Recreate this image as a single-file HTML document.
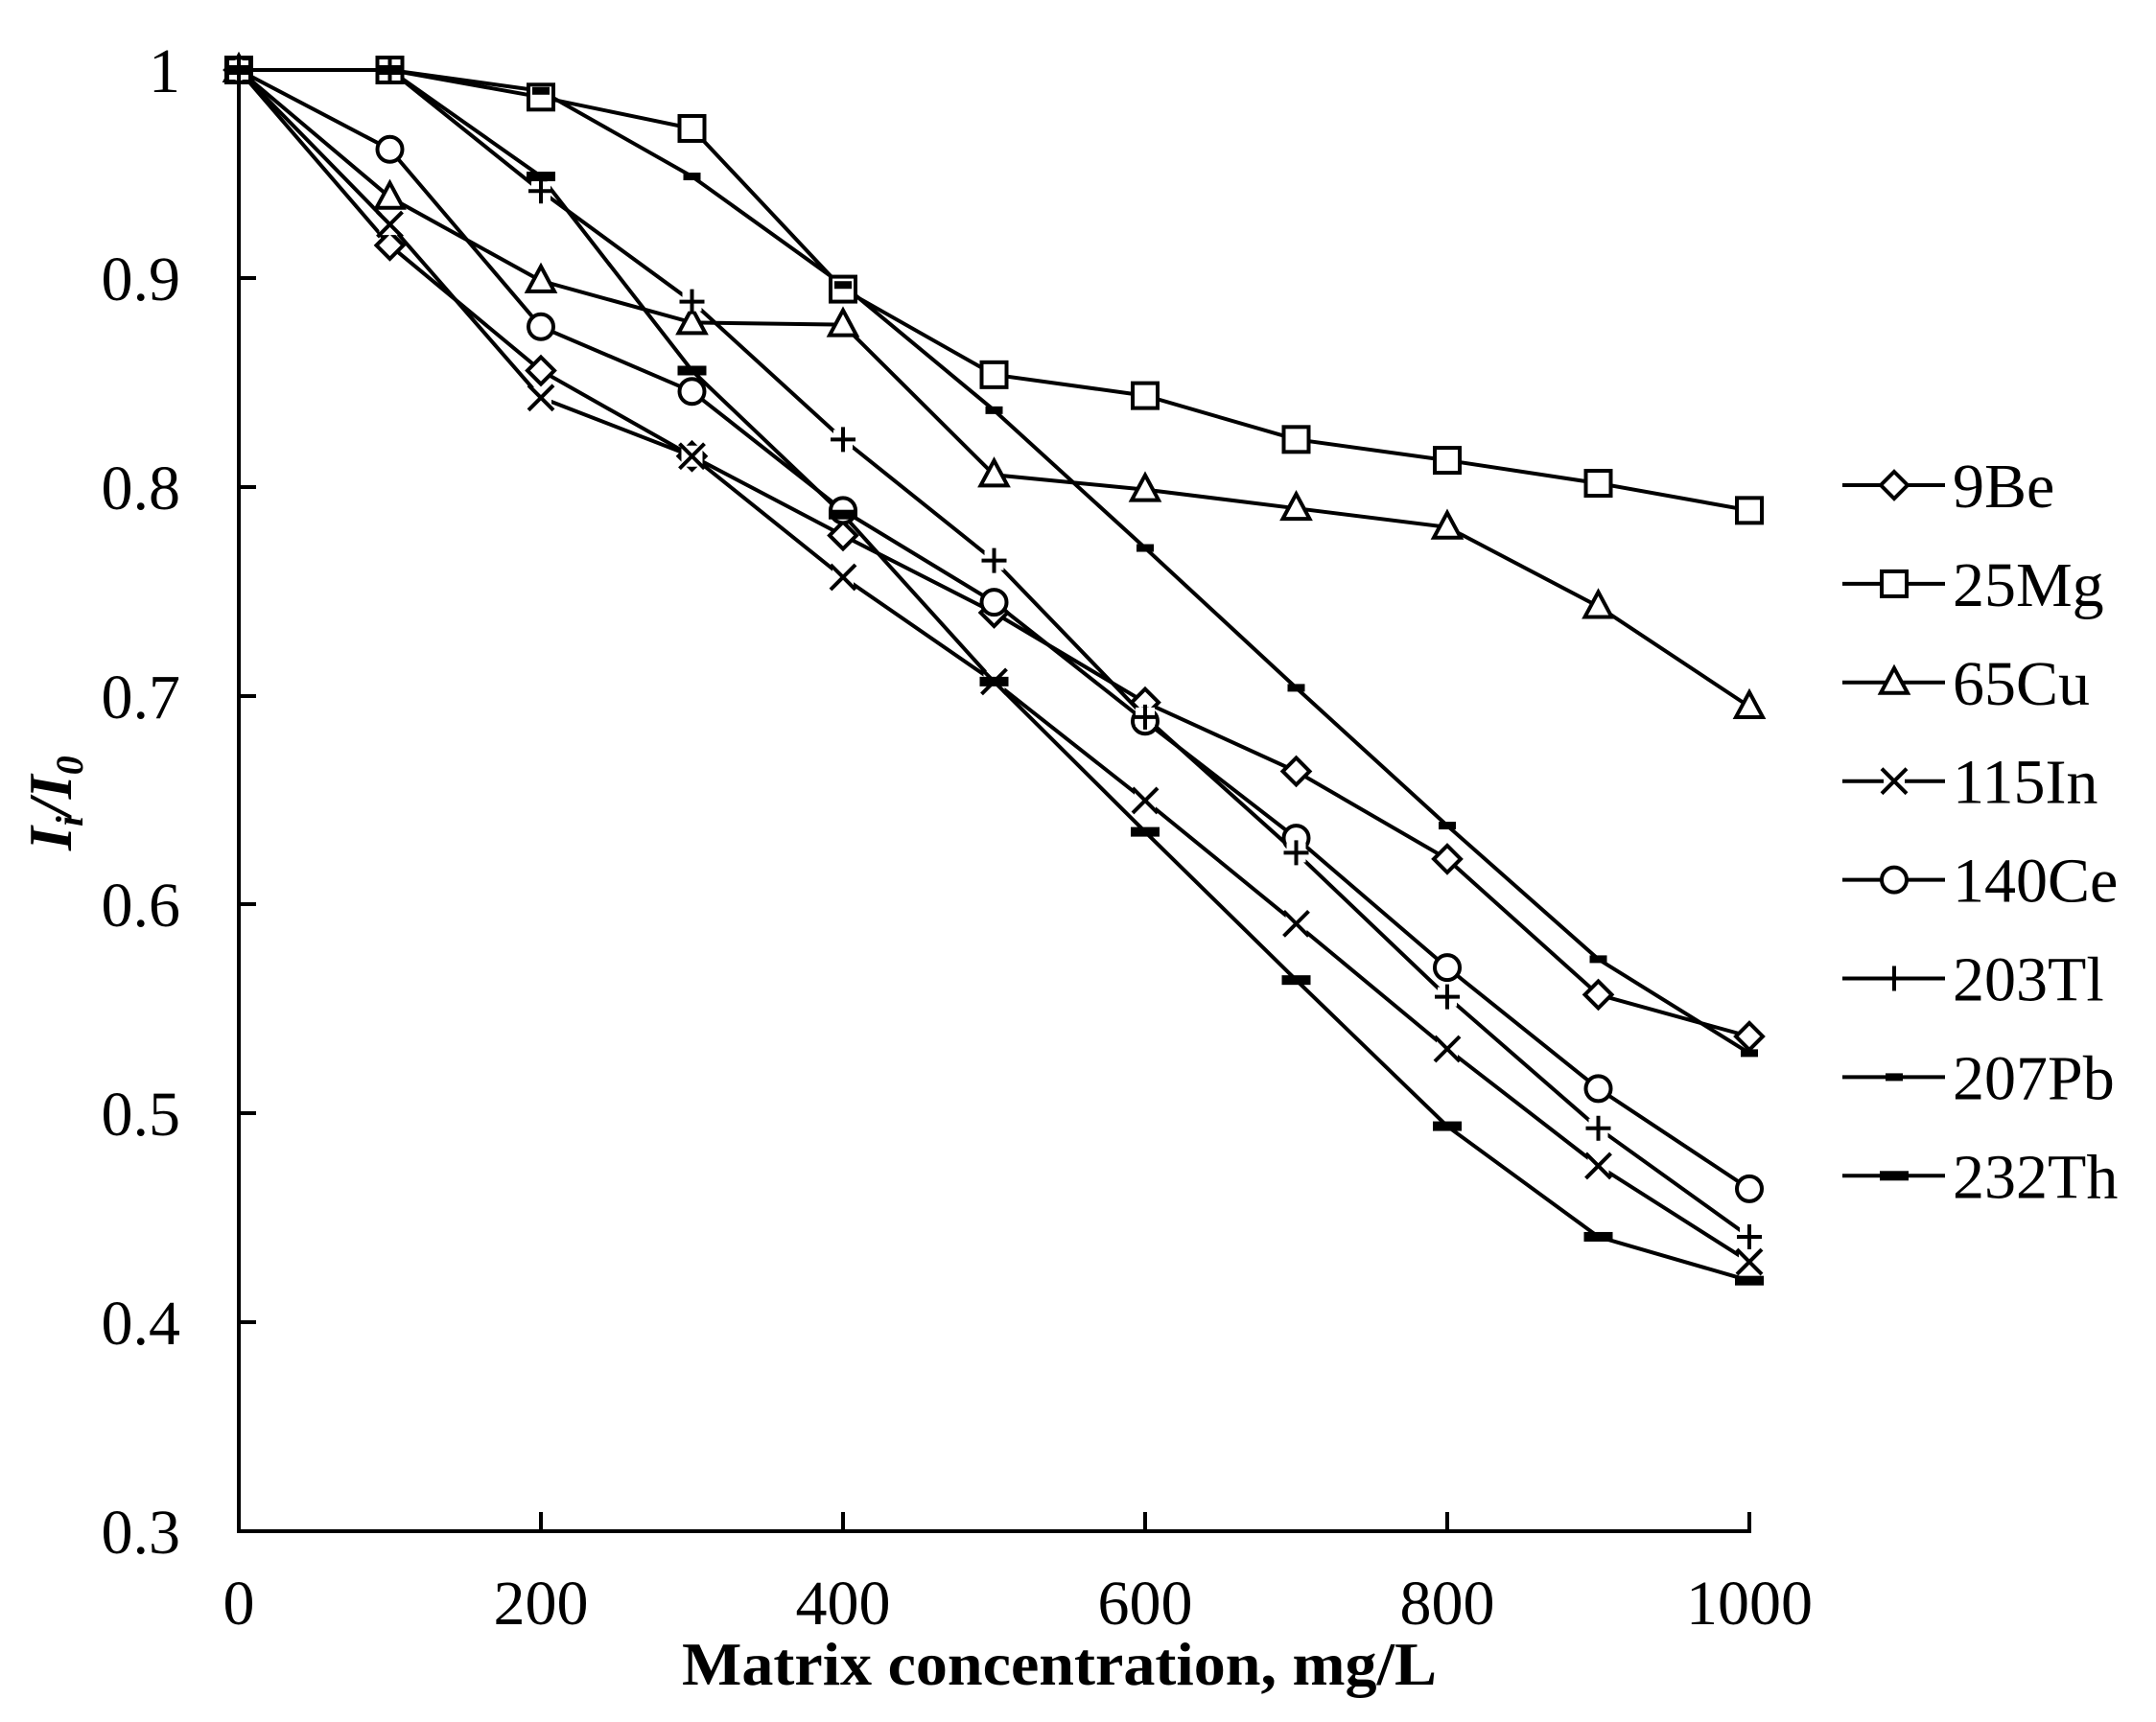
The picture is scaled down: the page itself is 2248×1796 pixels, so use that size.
<!DOCTYPE html>
<html><head><meta charset="utf-8"><style>
html,body{margin:0;padding:0;background:#fff;}
svg{display:block;}
text{font-family:"Liberation Serif",serif;fill:#000;}
</style></head><body>
<svg id="s" width="2248" height="1796" viewBox="0 0 2248 1796" xmlns="http://www.w3.org/2000/svg">
<rect width="2248" height="1796" fill="#fff"/>
<g stroke="#000" stroke-width="4" fill="none">
<line x1="249" y1="73" x2="249" y2="1597"/>
<line x1="247" y1="1597" x2="1826" y2="1597"/>
<line x1="249" y1="290" x2="267" y2="290"/>
<line x1="249" y1="508" x2="267" y2="508"/>
<line x1="249" y1="726" x2="267" y2="726"/>
<line x1="249" y1="943" x2="267" y2="943"/>
<line x1="249" y1="1161" x2="267" y2="1161"/>
<line x1="249" y1="1379" x2="267" y2="1379"/>
<line x1="564" y1="1597" x2="564" y2="1577"/>
<line x1="879" y1="1597" x2="879" y2="1577"/>
<line x1="1194" y1="1597" x2="1194" y2="1577"/>
<line x1="1509" y1="1597" x2="1509" y2="1577"/>
<line x1="1824" y1="1597" x2="1824" y2="1577"/>
</g>
<g font-size="66" text-anchor="end">
<text x="188" y="96">1</text>
<text x="188" y="313">0.9</text>
<text x="188" y="531">0.8</text>
<text x="188" y="749">0.7</text>
<text x="188" y="966">0.6</text>
<text x="188" y="1184">0.5</text>
<text x="188" y="1402">0.4</text>
<text x="188" y="1620">0.3</text>
</g>
<g font-size="66" text-anchor="middle">
<text x="249" y="1694">0</text>
<text x="564" y="1694">200</text>
<text x="879" y="1694">400</text>
<text x="1194" y="1694">600</text>
<text x="1509" y="1694">800</text>
<text x="1824" y="1694">1000</text>
</g>
<text x="711" y="1757" font-size="64" font-weight="bold" textLength="787" lengthAdjust="spacingAndGlyphs">Matrix concentration, mg/L</text>
<text transform="translate(74,887) rotate(-90)" font-size="64" font-weight="bold" font-style="italic">I<tspan font-size="40" dy="12">i</tspan><tspan dy="-12">/I</tspan><tspan font-size="40" dy="12">0</tspan></text>
<g id="series"></g>
<g id="legend" font-size="66"></g>
</svg>
<script>
var X=function(v){return 249+v*1.575;}, Y=function(v){return 73+(1-v)*2177;};
var xs=[0,100,200,300,400,500,600,700,800,900,1000];
var S=[
["9Be","d",[1,0.916,0.856,0.815,0.777,0.74,0.697,0.664,0.622,0.557,0.537]],
["25Mg","s",[1,1.0,0.987,0.972,0.895,0.854,0.844,0.823,0.813,0.802,0.789]],
["65Cu","t",[1,0.939,0.899,0.879,0.878,0.806,0.799,0.790,0.781,0.743,0.695]],
["115In","x",[1,0.926,0.843,0.815,0.757,0.707,0.650,0.591,0.531,0.475,0.429]],
["140Ce","o",[1,0.962,0.877,0.846,0.789,0.745,0.688,0.632,0.570,0.512,0.464]],
["203Tl","p",[1,1.0,0.942,0.889,0.823,0.765,0.690,0.625,0.556,0.493,0.441]],
["207Pb","b",[1,1.0,0.99,0.949,0.897,0.837,0.771,0.704,0.638,0.574,0.529]],
["232Th","B",[1,1.0,0.949,0.856,0.787,0.707,0.635,0.564,0.494,0.441,0.420]]];
function mk(t,x,y){
 var w='stroke="#000" stroke-width="4"';
 switch(t){
 case "d":return '<polygon points="'+x+','+(y-14)+' '+(x+14)+','+y+' '+x+','+(y+14)+' '+(x-14)+','+y+'" fill="#fff" '+w+'/>';
 case "s":return '<rect x="'+(x-13)+'" y="'+(y-13)+'" width="26" height="26" fill="#fff" '+w+'/>';
 case "t":return '<polygon points="'+x+','+(y-15)+' '+(x+14)+','+(y+11)+' '+(x-14)+','+(y+11)+'" fill="#fff" '+w+'/>';
 case "x":return '<rect x="'+(x-11)+'" y="'+(y-11)+'" width="22" height="22" fill="#fff"/><path d="M'+(x-13)+' '+(y-13)+'L'+(x+13)+' '+(y+13)+'M'+(x+13)+' '+(y-13)+'L'+(x-13)+' '+(y+13)+'" '+w+'/>';
 case "o":return '<circle cx="'+x+'" cy="'+y+'" r="13" fill="#fff" '+w+'/>';
 case "p":return '<rect x="'+(x-10)+'" y="'+(y-10)+'" width="20" height="20" fill="#fff"/><path d="M'+(x-13)+' '+y+'L'+(x+13)+' '+y+'M'+x+' '+(y-13)+'L'+x+' '+(y+13)+'" '+w+'/>';
 case "b":return '<rect x="'+(x-9)+'" y="'+(y-4)+'" width="18" height="8" fill="#000"/>';
 case "B":return '<rect x="'+(x-15)+'" y="'+(y-5)+'" width="30" height="10" fill="#000"/>';
 }}
var h='';
S.forEach(function(s){var p=xs.map(function(v,i){return X(v).toFixed(1)+','+Y(s[2][i]).toFixed(1);}).join(' ');
 h+='<polyline points="'+p+'" fill="none" stroke="#000" stroke-width="4"/>';});
S.forEach(function(s){xs.forEach(function(v,i){h+=mk(s[1],X(v),Y(s[2][i]));});});
document.getElementById('series').innerHTML=h;
var L='';
S.forEach(function(s,i){var y=506+i*102.9;
 L+='<line x1="1921" y1="'+y+'" x2="2028" y2="'+y+'" stroke="#000" stroke-width="4"/>'+mk(s[1],1975,y)+'<text x="2036" y="'+(y+23)+'">'+s[0]+'</text>';});
document.getElementById('legend').innerHTML=L;
</script>
</body></html>
